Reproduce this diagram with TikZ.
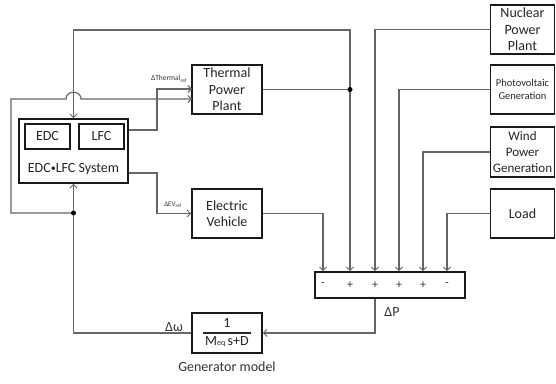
\documentclass[tikz,border=0pt]{standalone}
\usepackage{fontspec}
\setmainfont{Carlito}
\usetikzlibrary{arrows.meta,calc}
\begin{document}
\begin{tikzpicture}[x=1pt,y=-1pt,
  box/.style={draw=black!90,line width=1.6pt,align=center,inner sep=0pt,font=\fontsize{14}{16.5}\selectfont,text=black!85},
  conn/.style={draw=black!60,line width=1.2pt},
  arr/.style={conn,-{Straight Barb[length=3.5pt,width=7pt,line width=1pt]}},
  dot/.style={circle,fill=black,inner sep=0pt,minimum size=5pt},
  lab/.style={text=black!80,inner sep=0pt,font=\fontsize{14}{16}\selectfont}]
\useasboundingbox (0,0) rectangle (556,383);
% boxes
\node[box,minimum width=109pt,minimum height=64pt] (sys) at (73.5,151) {};
\node[box,minimum width=45pt,minimum height=25pt] (edc) at (47.5,136.5) {EDC};
\node[box,minimum width=45pt,minimum height=25pt] (lfc) at (101.5,136.5) {LFC};
\node[lab,text=black!85] (syslab) at (73.5,169) {EDC\raisebox{0.5pt}{\fontsize{10}{10}\selectfont•}LFC System};
\node[box,minimum width=70pt,minimum height=49pt] (tp) at (227,89.5) {Thermal\\Power\\Plant};
\node[box,minimum width=70pt,minimum height=49pt] (ev) at (227,213.5) {Electric\\Vehicle};
\node[box,minimum width=70pt,minimum height=40pt] (gen) at (227,333)
  {\setlength\arrayrulewidth{1.3pt}\renewcommand\arraystretch{1.0}\begin{tabular}{@{\,}c@{\,}}1\\\hline M{\fontsize{8}{9}\selectfont eq}\,s+D\end{tabular}};
\node[box,minimum width=64pt,minimum height=49pt] (nuc) at (522.5,29.5) {Nuclear\\Power\\Plant};
\node[box,minimum width=64pt,minimum height=49pt,font=\fontsize{10.5}{13}\selectfont] (pv) at (522.5,89.5) {Photovoltaic\\Generation};
\node[box,minimum width=64pt,minimum height=50pt,font=\fontsize{13}{16}\selectfont] (wind) at (522.5,152) {Wind\\Power\\Generation};
\node[box,minimum width=64pt,minimum height=49pt] (load) at (522.5,213.5) {Load};
\node[box,minimum width=150pt,minimum height=26pt] (dp) at (390,285) {};
% signs
\foreach \n/\x/\s in {s1/323/-,s2/350/+,s3/375/+,s4/399/+,s5/423/+,s6/447/-}
  \node[lab,font=\fontsize{12}{14}\selectfont] (\n) at (\x,285) {\s};
% labels
\node[lab,font=\fontsize{7.5}{9}\selectfont] (lthr) at (169,79) {ΔThermal\textsubscript{ref}};
\node[lab,font=\fontsize{7}{8}\selectfont] (lev) at (173,205) {ΔEV\textsubscript{ref}};
\node[lab] (ldw) at (174,327) {Δω};
\node[lab] (ldp) at (392,312) {ΔP};
\node[lab] (lgen) at (227,367) {Generator model};
% junctions
\coordinate (j1) at (350,89.5);
\coordinate (j2) at (73.5,213);
\coordinate (tin1) at (192,89);
\coordinate (tin2) at (192,99);
% connectors
\draw[arr] (ev.east) -| (s1 |- dp.north);
\draw[arr] (tp.east) -| (s2 |- dp.north);
\draw[arr] (j1) -- (350,30) -| (sys.north);
\draw[arr] (nuc.west) -| (s3 |- dp.north);
\draw[arr] (pv.west) -| (s4 |- dp.north);
\draw[arr] (wind.west) -| (s5 |- dp.north);
\draw[arr] (load.west) -| (s6 |- dp.north);
\draw[arr] (s3 |- dp.south) |- (gen.east);
\draw[arr] (gen.west) -| (sys.south);
\draw[arr] (j2) -- (11,213) -- (11,99) -- (66,99) .. controls (66,90) and (81,90) .. (81,99) -- (tin2);
\draw[arr] ($(sys.east)+(0,-21)$) -- (157,130) -- (157,89) -- (tin1);
\draw[arr] ($(sys.east)+(0,22)$) -- (157,173) |- (ev.west);
\node[dot] at (j1) {};
\node[dot] at (j2) {};
\end{tikzpicture}
\end{document}
